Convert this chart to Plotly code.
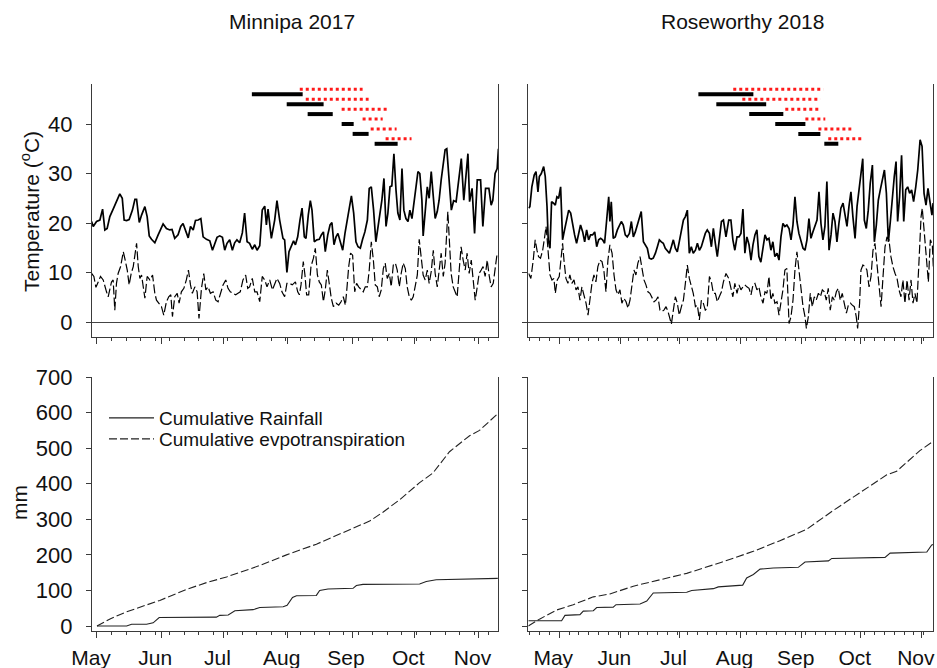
import datetime as dt
import plotly.graph_objects as go

FONT = "Liberation Sans, Arial, Helvetica, sans-serif"

# ---------------- labels ----------------
site_titles = ["Minnipa 2017", "Roseworthy 2018"]
month_labels = ["May", "Jun", "Jul", "Aug", "Sep", "Oct", "Nov"]
legend_labels = ["Cumulative Rainfall", "Cumulative evpotranspiration"]
temp_ticks = [0, 10, 20, 30, 40]
mm_ticks = [0, 100, 200, 300, 400, 500, 600, 700]

# x values are days since 1 May of the season year
# ---------------- Minnipa 2017 ----------------
mn_tmax_day = [-2.6, -1.8, -0.2, 1.4, 2.7, 3.8, 4.9, 6.2, 7.8, 9.1, 11.0, 12.2, 13.1, 14.3, 15.5, 17.1, 18.3, 19.1,
               20.4, 21.5, 23.1, 24.2, 25.2, 26.3, 27.9, 29.5, 30.8, 31.9, 33.5, 35.1, 36.2, 37.5, 39.1, 40.4, 41.5,
               42.7, 44.0, 45.1, 46.4, 47.5, 48.8, 50.1, 51.2, 52.8, 54.4, 55.7, 56.8, 57.9, 59.2, 60.5, 61.6, 62.7,
               64.0, 65.3, 66.4, 67.5, 68.8, 70.1, 71.2, 72.4, 73.6, 74.9, 76.1, 77.2, 78.5, 79.7, 80.9, 81.7, 82.5,
               84.1, 85.7, 86.8, 88.1, 89.7, 90.5, 91.6, 92.6, 93.7, 94.8, 95.7, 96.8, 97.9, 98.9, 100.0, 100.8,
               101.9, 102.9, 103.7, 104.8, 106.0, 107.2, 108.2, 109.2, 110.1, 111.3, 112.4, 113.3, 114.3, 115.3,
               116.2, 117.2, 118.5, 119.6, 120.6, 121.7, 122.7, 123.8, 124.9, 125.9, 127.0, 128.1, 129.2, 130.4,
               131.3, 132.3, 133.4, 134.5, 135.5, 136.5, 137.4, 138.4, 139.4, 140.3, 141.3, 142.2, 143.2, 144.2,
               145.1, 146.1, 147.1, 148.0, 149.0, 150.0, 150.9, 151.9, 152.8, 153.8, 154.8, 155.7, 156.7, 157.3,
               158.3, 159.3, 160.2, 161.2, 162.2, 163.1, 164.1, 165.0, 166.0, 167.0, 167.9, 168.7, 170.9, 172.0,
               173.2, 175.7, 176.9, 178.9, 179.7, 180.9, 182.1, 183.4, 185.0, 186.1, 187.4, 189.0, 190.1, 190.9,
               192.0, 193.0, 193.6]
mn_tmax = [20.3, 19.3, 20.3, 20.6, 22.8, 18.6, 18.9, 21.3, 22.8, 24.0, 25.9, 25.0, 20.6, 20.5, 20.7, 22.6, 24.8, 24.8,
           20.1, 21.6, 23.3, 21.3, 17.4, 16.7, 16.0, 17.6, 18.9, 19.8, 18.9, 18.6, 18.7, 16.9, 17.6, 19.3, 19.9,
           18.6, 17.0, 19.3, 18.6, 20.5, 20.6, 20.9, 17.2, 16.7, 16.4, 14.5, 15.9, 17.1, 17.4, 17.1, 14.5, 15.9,
           16.6, 14.5, 16.0, 16.6, 16.0, 18.0, 22.0, 16.2, 15.9, 14.7, 15.6, 14.5, 15.4, 22.6, 23.4, 19.6, 22.8,
           16.9, 20.6, 24.5, 20.6, 16.9, 16.6, 10.0, 14.2, 15.2, 16.4, 15.6, 17.2, 20.6, 23.0, 17.2, 16.9,
           21.6, 24.5, 22.6, 16.2, 16.6, 16.7, 17.6, 18.2, 14.2, 17.6, 19.6, 20.1, 15.6, 17.2,
           17.9, 16.6, 14.5, 17.9, 20.3, 23.3, 25.5, 22.0, 16.2, 15.2, 14.9, 16.7, 18.2, 20.6,
           27.0, 27.3, 22.6, 16.2, 19.3, 22.0, 24.6, 29.0, 19.3, 22.0, 27.3, 27.5, 34.0, 26.7,
           22.0, 20.6, 31.0, 22.6, 20.9, 20.3, 22.6, 20.9, 24.0, 28.0, 30.4, 30.0, 24.6, 17.4,
           23.3, 27.3, 25.0, 30.4, 25.3, 20.9, 22.3, 24.6, 28.7, 32.0, 34.8, 35.0, 22.6, 24.5,
           24.3, 33.0, 24.6, 34.0, 24.3, 27.0, 17.9, 28.7, 28.7, 19.3, 27.0, 27.0, 23.6, 24.6,
           30.0, 31.0, 35.0]

mn_tmin_day = [-2.6, -1.5, -0.5, 0.6, 1.7, 3.0, 3.8, 4.6, 5.4, 6.2, 7.0, 7.8, 8.6, 9.4, 10.2, 11.4, 12.7, 13.6, 14.6,
               15.5, 16.5, 17.5, 18.3, 19.1, 19.9, 20.7, 21.5, 22.3, 23.1, 24.2, 25.5, 26.8, 27.9, 28.7, 30.0, 31.1,
               32.2, 33.5, 34.6, 35.6, 36.4, 37.5, 38.7, 39.6, 40.7, 41.9, 43.1, 44.1, 45.1, 46.0, 47.2, 48.3, 49.2,
               50.4, 51.5, 52.5, 53.6, 54.7, 56.0, 57.3, 58.4, 59.5, 60.8, 62.1, 63.2, 64.3, 65.6, 66.9, 68.0, 69.1,
               70.4, 71.7, 72.7, 73.6, 74.9, 76.1, 77.2, 78.5, 79.7, 80.9, 82.0, 83.3, 84.6, 85.7, 86.8, 88.1, 89.2,
               90.5, 91.6, 92.9, 94.2, 95.7, 96.8, 97.6, 98.4, 99.5, 100.3, 101.1, 102.1, 103.2, 104.4, 105.3,
               106.3, 107.2, 108.2, 109.2, 110.1, 111.1, 112.1, 113.0, 114.0, 115.3, 116.6, 117.7, 118.8, 119.8,
               120.6, 121.4, 122.3, 123.3, 124.3, 125.2, 126.2, 127.3, 128.4, 129.4, 130.4, 131.3, 132.3, 133.3,
               134.2, 135.2, 136.1, 137.1, 138.1, 139.0, 140.0, 141.0, 141.9, 142.9, 143.9, 144.8, 145.8, 146.7,
               147.7, 148.7, 149.6, 150.6, 151.6, 152.5, 153.5, 154.5, 155.4, 156.4, 157.3, 158.3, 159.3, 160.2,
               161.2, 162.2, 163.1, 164.1, 165.0, 166.0, 167.0, 167.9, 169.2, 169.9, 170.8, 171.8, 172.8, 173.7,
               174.7, 175.6, 176.6, 177.6, 178.5, 179.5, 180.5, 181.4, 182.4, 183.4, 184.3, 185.3, 186.2, 187.2,
               188.2, 189.1, 190.1, 191.1, 192.0, 193.0]
mn_tmin = [9.8, 9.2, 7.0, 8.1, 9.2, 8.5, 7.1, 6.1, 5.1, 6.8, 8.1, 8.5, 2.4, 7.8, 9.8, 11.2, 14.2, 12.5, 10.5,
           7.5, 9.8, 11.2, 13.2, 15.9, 11.2, 8.8, 9.5, 7.5, 4.8, 9.2, 8.5, 9.5, 5.8, 4.4, 3.8, 3.1,
           1.4, 4.1, 5.1, 5.5, 1.1, 5.1, 5.8, 3.8, 6.1, 6.8, 8.5, 10.5, 7.5, 5.8, 7.1, 6.1, 0.7,
           6.8, 9.8, 6.5, 7.1, 5.8, 6.1, 4.4, 4.1, 5.8, 7.5, 8.5, 6.8, 6.1, 5.8, 5.5, 5.8, 6.1,
           8.5, 9.5, 6.8, 7.1, 8.8, 6.1, 6.1, 4.1, 9.2, 8.5, 7.1, 8.5, 6.5, 7.8, 8.8, 7.8, 6.1,
           5.1, 7.8, 7.8, 7.5, 8.1, 6.1, 5.5, 7.5, 12.2, 9.5, 5.5, 5.5, 11.2, 12.9, 14.9,
           9.5, 8.1, 7.5, 4.1, 6.5, 10.5, 7.8, 4.8, 3.1, 3.8, 3.4, 4.1, 5.1, 3.4,
           7.1, 11.2, 13.9, 13.5, 6.1, 7.8, 7.1, 6.5, 6.1, 7.1, 7.1, 10.5, 16.2, 12.5,
           7.5, 7.1, 5.1, 6.5, 10.8, 11.9, 8.8, 9.8, 7.1, 11.5, 11.9, 10.5, 7.1, 9.8,
           11.9, 10.8, 7.1, 5.1, 4.4, 5.1, 7.1, 9.5, 16.7, 13.2, 9.5, 8.5, 10.5, 7.8,
           10.2, 14.5, 9.8, 7.1, 10.5, 13.9, 9.2, 11.9, 22.3, 15.9, 9.8, 7.1, 5.8, 5.1,
           10.5, 15.2, 12.5, 10.5, 13.9, 9.8, 12.5, 9.2, 4.4, 7.1, 9.8, 10.5, 11.2, 9.2,
           12.5, 9.5, 7.1, 7.8, 10.5, 13.9]

mn_rain_day = [0, 14.3, 16.7, 23.9, 27.1, 30.0, 57.6, 59.2, 63.3, 66.5, 75.3, 78.5, 89.8, 91.7, 94.3, 96.2, 105.8,
               107.4, 111.4, 123.5, 125.1, 128.3, 155.6, 158.8, 163.6, 181.3, 193.3]
mn_rain = [0, 0, 5, 5, 9, 24, 25, 30, 31, 43, 46, 52, 54, 58, 80, 85, 86, 100, 104, 106, 114, 117, 118, 125, 130,
           132, 134]
mn_et_day = [0, 6.3, 14.3, 30.3, 43.2, 52.8, 62.5, 78.5, 91.4, 105.8, 123.5, 131.5, 137.9, 146.0, 155.6, 162.0,
             170.0, 179.7, 184.5, 193.3]
mn_et = [0, 20, 40, 72, 103, 122, 138, 170, 200, 230, 275, 295, 320, 355, 403, 430, 490, 535, 550, 597]

# phenology periods (black bars) and following periods (red dotted)
mn_bar_start = [74.7, 91.5, 101.6, 118.0, 123.3, 133.9]
mn_bar_end = [99.2, 109.3, 113.7, 123.8, 131.0, 145.0]
mn_bar_level = [46, 44, 42, 40, 38, 36]
mn_dot_start = [97.8, 100.7, 118.0, 128.1, 132.0, 139.2]
mn_dot_end = [128.1, 131.0, 139.7, 137.8, 144.5, 151.7]
mn_dot_level = [47, 45, 43, 41, 39, 37]

# ---------------- Roseworthy 2018 ----------------
rw_tmax_day = [-15.5, -14.9, -13.9, -12.7, -11.8, -10.8, -10.1, -9.1, -7.9, -7.1, -6.2, -5.6, -4.7, -3.9, -2.9, -2.0,
               -1.2, -0.3, 0.7, 1.7, 2.7, 3.7, 4.8, 5.8, 6.8, 7.8, 8.8, 9.8, 10.8, 11.9, 12.9, 13.9, 14.9, 15.9,
               16.9, 18.0, 19.0, 20.0, 21.0, 22.0, 23.0, 24.0, 25.1, 25.7, 26.4, 27.4, 28.4, 29.5, 30.5, 31.5, 32.5,
               33.5, 34.5, 35.6, 36.6, 37.6, 38.6, 39.6, 40.6, 41.6, 42.7, 43.7, 44.7, 45.7, 46.7, 47.7, 48.8, 49.8,
               50.8, 51.8, 52.8, 53.8, 54.8, 55.9, 56.9, 57.9, 58.9, 59.9, 60.9, 62.0, 63.0, 64.0, 65.0, 66.0, 67.0,
               68.0, 69.1, 70.1, 71.1, 72.1, 73.1, 74.1, 75.1, 76.2, 77.2, 78.2, 79.2, 80.2, 81.2, 82.3, 83.3, 84.6,
               86.0, 87.1, 88.1, 89.1, 90.2, 91.2, 92.2, 93.2, 94.2, 95.2, 96.3, 97.3, 98.3, 99.3, 100.3, 101.3,
               102.3, 103.4, 104.4, 105.4, 106.4, 107.4, 108.4, 109.4, 110.5, 111.5, 112.5, 113.5, 114.5, 115.5,
               116.6, 117.6, 118.6, 119.6, 120.6, 121.6, 122.6, 123.7, 124.7, 125.7, 126.7, 127.7, 128.7, 129.8,
               130.8, 131.8, 132.8, 133.8, 134.8, 135.8, 136.9, 137.9, 138.9, 139.9, 140.9, 141.9, 142.9, 144.0,
               145.0, 146.0, 147.0, 148.0, 149.0, 150.1, 151.1, 152.1, 153.1, 154.0, 154.8, 155.8, 156.8, 157.8,
               158.9, 159.9, 160.9, 161.9, 162.9, 163.9, 165.0, 166.0, 167.0, 168.0, 169.0, 170.0, 170.9, 171.7,
               172.7, 173.7, 174.8, 175.8, 176.8, 177.8, 178.8, 179.8, 180.9, 181.9, 183.1, 184.1, 185.1, 186.1,
               187.1, 188.1, 189.1, 189.7]
rw_tmax = [23.0, 23.3, 27.3, 29.7, 30.4, 26.3, 29.4, 30.0, 31.4, 29.4, 23.3, 16.6, 14.9, 24.3, 24.0, 23.6,
           25.3, 25.0, 27.3, 16.6, 18.6, 20.6, 22.6, 22.0, 19.3, 17.6, 15.9, 17.9, 19.6, 18.2, 16.2, 18.6, 16.6, 17.6,
           17.6, 18.2, 15.2, 16.6, 16.9, 16.6, 15.9, 20.3, 25.3, 20.3, 24.3, 16.9, 17.2, 18.6, 19.6, 20.3, 19.6,
           17.6, 17.2, 17.9, 20.3, 17.2, 18.2, 19.6, 21.3, 22.3, 16.2, 15.6, 14.9, 12.9, 12.7, 12.9, 13.9, 15.2,
           16.6, 16.2, 15.9, 14.9, 14.5, 13.9, 15.2, 16.6, 14.9, 14.2, 16.2, 18.2, 20.6, 21.3, 22.6, 13.9, 15.2,
           13.9, 14.5, 15.9, 14.5, 15.2, 16.6, 17.9, 18.6, 17.9, 15.2, 18.9, 15.9, 13.2, 16.6, 20.3, 20.6, 17.2,
           20.6, 20.6, 16.6, 14.5, 17.2, 17.2, 17.9, 22.8, 13.9, 17.2, 15.6, 12.5, 15.6, 17.6, 18.6, 13.2,
           12.1, 14.9, 17.6, 16.6, 16.9, 14.5, 16.2, 13.2, 13.9, 12.5, 17.2, 19.9, 19.3, 19.6,
           18.9, 16.6, 19.6, 25.3, 20.3, 17.9, 16.2, 14.9, 14.5, 16.6, 20.9, 16.9, 18.2, 19.3,
           20.6, 26.3, 19.9, 16.6, 19.3, 28.4, 14.5, 17.6, 22.0, 20.3, 16.2, 19.9, 23.0, 24.0,
           21.6, 19.3, 23.3, 26.3, 21.3, 16.9, 23.3, 27.0, 29.4, 33.0, 20.6, 18.9, 22.6, 28.0,
           31.7, 16.2, 19.6, 24.6, 26.7, 28.7, 30.7, 26.0, 16.2, 20.3, 25.3, 29.4, 32.4, 20.3,
           25.3, 33.7, 20.3, 26.7, 27.3, 26.0, 26.7, 24.3, 27.3, 30.7, 36.8, 35.5, 26.0, 23.6,
           27.0, 24.0, 21.6, 24.0]

rw_tmin_day = [-15.5, -14.4, -13.2, -12.2, -11.3, -10.5, -9.5, -8.4, -7.4, -6.7, -6.1, -5.4, -4.7, -3.7, -2.7, -2.0,
               -1.0, 0.0, 1.0, 1.7, 2.4, 3.4, 4.4, 5.4, 6.4, 7.5, 8.5, 9.5, 10.5, 11.5, 12.5, 13.6, 14.6, 15.6, 16.6,
               17.6, 18.6, 19.6, 20.7, 21.7, 22.7, 23.7, 24.7, 25.7, 26.8, 27.8, 28.8, 29.8, 30.8, 31.8, 32.8, 33.9,
               34.9, 35.9, 36.9, 37.9, 38.9, 39.9, 41.0, 42.0, 43.0, 44.0, 45.0, 46.0, 47.1, 48.1, 49.1, 50.1, 51.1,
               52.1, 53.1, 54.2, 55.2, 56.2, 56.9, 57.9, 58.9, 59.9, 60.9, 62.0, 63.0, 64.0, 65.0, 66.0, 67.0, 68.0,
               69.1, 70.1, 71.1, 72.1, 73.1, 74.1, 75.1, 76.2, 77.2, 78.2, 79.2, 80.2, 81.2, 82.3, 83.3, 84.6, 86.0,
               87.1, 88.1, 89.1, 90.2, 91.2, 92.2, 93.2, 94.2, 95.2, 96.3, 97.3, 98.3, 99.3, 100.3, 101.3, 102.3,
               103.4, 104.4, 105.4, 106.4, 107.4, 108.4, 109.4, 110.5, 111.5, 112.5, 113.5, 114.5, 115.5, 116.6,
               117.6, 118.6, 119.6, 120.6, 121.6, 122.6, 123.7, 124.7, 125.4, 126.4, 127.4, 128.4, 129.4, 130.4,
               131.5, 132.5, 133.5, 134.5, 135.5, 136.5, 137.5, 138.6, 139.6, 140.6, 141.6, 142.6, 143.6, 144.6,
               145.7, 146.7, 147.7, 148.7, 149.7, 150.7, 151.4, 152.4, 153.1, 154.1, 155.1, 156.1, 157.2, 158.2,
               159.2, 160.2, 161.2, 162.2, 163.3, 164.3, 165.3, 166.3, 167.3, 168.3, 169.3, 170.4, 171.4, 172.4,
               173.4, 174.4, 175.4, 176.5, 177.5, 178.5, 179.5, 180.5, 181.5, 182.5, 183.6, 184.2, 185.3, 186.3,
               187.3, 188.3, 189.3, 189.8]
rw_tmin = [9.8, 8.8, 12.5, 16.6, 14.5, 13.2, 12.9, 14.5, 17.2, 19.3, 16.6, 12.5, 9.5, 8.5, 8.8, 5.8,
           8.5, 9.2, 12.5, 15.9, 12.5, 8.8, 7.8, 9.5, 7.8, 8.5, 6.5, 7.1, 4.4, 7.1, 5.5, 3.8, 1.4, 4.4, 7.8,
           9.5, 8.1, 11.2, 12.5, 12.2, 10.2, 6.1, 12.5, 15.6, 13.9, 9.5, 6.5, 5.5, 6.5, 3.8, 4.8, 4.1,
           2.8, 4.4, 7.5, 10.5, 9.5, 11.9, 13.2, 11.2, 8.5, 7.5, 6.1, 5.8, 4.8, 4.1, 4.4, 5.1, 2.4,
           2.1, 2.4, 3.1, 2.1, 0.4, -0.4, 2.4, 5.1, 3.8, 1.4, 3.1, 4.4, 7.8, 11.5, 8.8, 7.1, 5.8,
           3.1, 3.4, 0.4, 4.4, 3.8, 2.4, 2.8, 9.2, 8.1, 5.8, 5.8, 4.1, 5.1, 6.1, 8.1, 9.8, 8.8,
           6.5, 5.1, 7.8, 5.8, 7.5, 6.5, 7.1, 7.5, 7.1, 6.8, 5.5, 7.5, 7.8, 6.5, 7.1, 5.1,
           3.8, 6.1, 5.8, 9.2, 4.4, 5.8, 3.8, 4.1, 1.4, 3.8, 6.5, 10.5, 10.8, -0.3,
           1.1, 4.4, 10.5, 14.2, 10.5, 6.5, 3.1, 1.1, -1.3, 1.1, 5.8, 3.1, 5.1, 4.4,
           5.8, 5.1, 6.5, 6.1, 4.4, 6.8, 2.4, 5.1, 4.4, 6.1, 6.8, 4.4, 5.8, 3.8,
           1.8, 3.4, 3.8, 3.4, 3.1, 1.1, -1.3, 3.8, 10.5, 11.5, 11.2, 10.5, 7.1, 9.2,
           14.5, 15.9, 11.2, 6.5, 3.1, 9.2, 15.2, 17.2, 16.6, 13.2, 11.2, 9.8, 8.8, 6.5,
           5.1, 8.5, 3.8, 8.5, 4.4, 8.5, 3.8, 5.8, 3.8, 11.9, 21.3, 23.0, 17.9, 12.5,
           8.1, 16.6, 15.6, 11.2]

rw_rain_day = [-15.7, 1.2, 2.9, 10.5, 12.2, 17.3, 19.0, 27.4, 28.8, 41.0, 44.4, 47.7, 64.7, 67.2, 78.2, 80.7, 93.1,
               95.1, 98.5, 101.9, 108.6, 121.3, 124.7, 136.6, 138.3, 165.3, 167.9, 186.5, 189.0, 189.8]
rw_rain = [15, 15, 30, 32, 42, 43, 52, 53, 60, 62, 70, 93, 95, 100, 105, 110, 115, 135, 145, 160, 163, 165, 180,
           183, 190, 193, 205, 208, 228, 229]
rw_et_day = [-15.7, -9.8, -1.3, 7.1, 17.3, 25.7, 37.6, 51.1, 64.7, 81.6, 98.5, 112.0, 125.6, 139.1, 152.6, 166.2,
             171.2, 183.0, 189.9]
rw_et = [0, 20, 45, 60, 82, 90, 112, 130, 148, 178, 210, 240, 272, 325, 375, 425, 435, 493, 520]

rw_bar_start = [70.6, 79.7, 96.4, 109.6, 121.3, 134.5]
rw_bar_end = [98.5, 105.0, 113.7, 124.9, 132.5, 141.6]
rw_bar_level = [46, 44, 42, 40, 38, 36]
rw_dot_start = [88.3, 92.9, 114.7, 124.9, 131.5, 136.5]
rw_dot_end = [134.0, 132.5, 131.5, 135.0, 148.2, 153.8]
rw_dot_level = [47, 45, 43, 41, 39, 37]

# ---------------- figure ----------------
W, H = 937, 668
fig = go.Figure()


def px_x(p):
    return p / W


def px_y(p):
    return 1 - p / H


AX_COLOR = "#3a3a3a"
ytick_font = dict(family=FONT, size=22, color="#111")
xtick_font = dict(family=FONT, size=21, color="#111")


def add_line(x, y, xa, ya, width=1.6, dash="solid", color="black", name=None, legend=None):
    if legend:
        kw = dict(showlegend=True, legend=legend)
    else:
        kw = dict(showlegend=False)
    fig.add_trace(go.Scatter(x=x, y=y, mode="lines", xaxis=xa, yaxis=ya, name=name,
                             hoverinfo="skip", line=dict(color=color, width=width, dash=dash), **kw))


panels = [
    ("x", "y", mn_tmax_day, mn_tmax, mn_tmin_day, mn_tmin,
     (mn_bar_start, mn_bar_end, mn_bar_level, mn_dot_start, mn_dot_end, mn_dot_level)),
    ("x2", "y2", rw_tmax_day, rw_tmax, rw_tmin_day, rw_tmin,
     (rw_bar_start, rw_bar_end, rw_bar_level, rw_dot_start, rw_dot_end, rw_dot_level)),
]
for xa, ya, txd, tx, tnd, tn, bars in panels:
    add_line(tnd, tn, xa, ya, width=1.2, dash="9px,3px")
    add_line(txd, tx, xa, ya, width=1.7)
    bs, be, bl, ds, de, dl = bars
    for s, e, lv in zip(ds, de, dl):
        add_line([s, e], [lv, lv], xa, ya, width=3, dash="dot", color="#ff1a1a")
    for s, e, lv in zip(bs, be, bl):
        add_line([s, e], [lv, lv], xa, ya, width=4, color="black")

add_line(mn_rain_day, mn_rain, "x3", "y3", width=1.1, color="#222", name=legend_labels[0], legend="legend")
add_line(mn_et_day, mn_et, "x3", "y3", width=1.1, dash="8px,3px", color="#222", name=legend_labels[1],
         legend="legend2")
add_line(rw_rain_day, rw_rain, "x4", "y4", width=1.1, color="#222")
add_line(rw_et_day, rw_et, "x4", "y4", width=1.1, dash="8px,3px", color="#222")

# month ticks (days since 1 May)
base = dt.date(2017, 5, 1)
month_pos = [(dt.date(2017, 5 + i, 1) - base).days for i in range(len(month_labels))]

left_dom = [px_x(92), px_x(498)]
right_dom = [px_x(528.3), px_x(933.3)]
top_dom = [px_y(337), px_y(84)]
bot_dom = [px_y(631), px_y(377)]
left_range = [-2.4, 193.4]
right_range = [-15.7, 189.8]


def xaxis(dom, rng, anchor, labels, minor_dtick):
    return dict(domain=dom, range=rng, anchor=anchor, automargin=False, showgrid=False, zeroline=False,
                showline=True, linecolor=AX_COLOR, linewidth=1.2, mirror=False,
                ticks="outside", ticklen=6, tickwidth=1, tickcolor=AX_COLOR,
                tickmode="array", tickvals=month_pos, ticktext=month_labels,
                showticklabels=labels, tickfont=xtick_font, ticklabelshift=-6, ticklabelstandoff=2,
                minor=dict(ticks="outside", ticklen=3, tickwidth=1, tickcolor=AX_COLOR,
                           tick0=0, dtick=minor_dtick, showgrid=False))


def yaxis(dom, rng, anchor, vals, labels, zero):
    return dict(domain=dom, range=rng, anchor=anchor, automargin=False, showgrid=False,
                zeroline=zero, zerolinecolor="#444", zerolinewidth=1,
                showline=True, linecolor=AX_COLOR, linewidth=1.2, mirror=True,
                ticks="outside", ticklen=5, tickwidth=1, tickcolor=AX_COLOR,
                tickmode="array", tickvals=vals, showticklabels=labels, tickfont=ytick_font,
                ticklabelstandoff=9)


legend_common = dict(xanchor="left", yanchor="middle", bgcolor="rgba(0,0,0,0)",
                     font=dict(family=FONT, size=19, color="#111"), itemwidth=45,
                     borderwidth=0)

fig.update_layout(
    width=W, height=H, margin=dict(l=0, r=0, t=0, b=0, pad=0, autoexpand=False),
    paper_bgcolor="white", plot_bgcolor="white",
    font=dict(family=FONT, size=20, color="#111"),
    xaxis=xaxis(left_dom, left_range, "y", False, 7),
    xaxis2=xaxis(right_dom, right_range, "y2", False, 5),
    xaxis3=xaxis(left_dom, left_range, "y3", True, 7),
    xaxis4=xaxis(right_dom, right_range, "y4", True, 5),
    yaxis=yaxis(top_dom, [-3.03, 48.08], "x", temp_ticks, True, True),
    yaxis2=yaxis(top_dom, [-3.03, 48.08], "x2", temp_ticks, False, True),
    yaxis3=yaxis(bot_dom, [-14, 700], "x3", mm_ticks, True, False),
    yaxis4=yaxis(bot_dom, [-14, 700], "x4", mm_ticks, False, False),
    legend=dict(x=px_x(104), y=px_y(418), **legend_common),
    legend2=dict(x=px_x(104), y=px_y(439), **legend_common),
    showlegend=True,
)

annos = [
    dict(text=site_titles[0], x=px_x(292), y=px_y(22), size=21),
    dict(text=site_titles[1], x=px_x(742), y=px_y(22), size=21),
    dict(text="Temperature (<sup>o</sup>C)", x=px_x(30), y=px_y(212), textangle=-90, size=21),
    dict(text="mm", x=px_x(19), y=px_y(503), textangle=-90, size=21),
]
for a in annos:
    size = a.pop("size")
    fig.add_annotation(xref="paper", yref="paper", showarrow=False, xanchor="center", yanchor="middle",
                       font=dict(family=FONT, size=size, color="#111"), **a)

fig.write_html("out.html", config={"displayModeBar": False},
               post_script="document.body.style.margin='0';document.body.style.overflow='hidden';")
